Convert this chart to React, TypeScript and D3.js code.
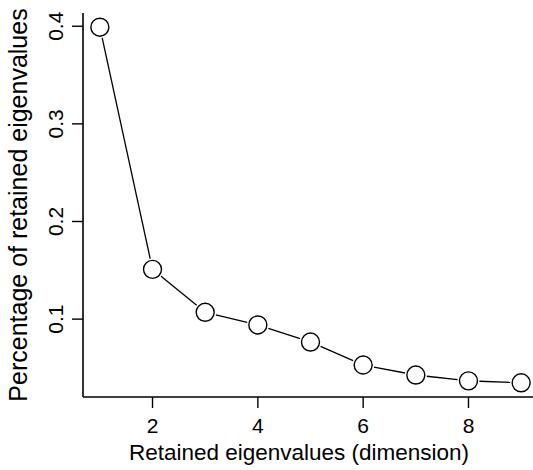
import React, { useEffect, useRef } from 'react';
import * as d3 from 'd3';

const dims = [1, 2, 3, 4, 5, 6, 7, 8, 9];
const retained = [0.399, 0.151, 0.107, 0.094, 0.0765, 0.053, 0.0427, 0.0368, 0.0348];
const xTicks = [2, 4, 6, 8];
const yTicks = [0.1, 0.2, 0.3, 0.4];

const W = 533;
const H = 470;
const FONT = '"Liberation Sans", Arial, Helvetica, sans-serif';

export default function App() {
  const svgRef = useRef<SVGSVGElement>(null);

  useEffect(() => {
    const svg = d3.select(svgRef.current);
    svg.selectAll('*').remove();

    // R-style 4% padding on data range
    const [x0, x1] = d3.extent(dims) as [number, number];
    const [y0, y1] = d3.extent(retained) as [number, number];
    const xp = (x1 - x0) * 0.04;
    const yp = (y1 - y0) * 0.04;

    const x = d3.scaleLinear().domain([x0 - xp, x1 + xp]).range([83, 538]);
    const y = d3.scaleLinear().domain([y0 - yp, y1 + yp]).range([397, 13]);

    const g = svg.append('g');

    // L-shaped axes
    g.append('line')
      .attr('x1', x.range()[0]).attr('x2', x.range()[0])
      .attr('y1', y.range()[1]).attr('y2', y.range()[0])
      .attr('stroke', '#000').attr('stroke-width', 1.6);
    g.append('line')
      .attr('x1', x.range()[0]).attr('x2', x.range()[1])
      .attr('y1', y.range()[0]).attr('y2', y.range()[0])
      .attr('stroke', '#000').attr('stroke-width', 1.6);

    // x ticks
    const xt = g.selectAll('g.xt').data(xTicks).enter().append('g')
      .attr('transform', (d) => `translate(${x(d)},${y.range()[0]})`);
    xt.append('line').attr('y1', 0).attr('y2', 11).attr('stroke', '#000').attr('stroke-width', 1.4);
    xt.append('text')
      .attr('y', 36)
      .attr('text-anchor', 'middle')
      .attr('font-family', FONT)
      .attr('font-size', 21)
      .text((d) => d);

    // y ticks (rotated labels)
    const yt = g.selectAll('g.yt').data(yTicks).enter().append('g')
      .attr('transform', (d) => `translate(${x.range()[0]},${y(d)})`);
    yt.append('line').attr('x1', 0).attr('x2', -11).attr('stroke', '#000').attr('stroke-width', 1.4);
    yt.append('text')
      .attr('transform', 'translate(-20,0) rotate(-90)')
      .attr('text-anchor', 'middle')
      .attr('font-family', FONT)
      .attr('font-size', 21)
      .text((d) => d3.format('.1f')(d));

    // connecting segments with gaps (type = "b")
    const r = 9;
    const gap = r + 2;
    const pts = dims.map((d, i) => [x(d), y(retained[i])] as [number, number]);
    for (let i = 0; i < pts.length - 1; i++) {
      const [ax, ay] = pts[i];
      const [bx, by] = pts[i + 1];
      const len = Math.hypot(bx - ax, by - ay);
      if (len <= 2 * gap) continue;
      const ux = (bx - ax) / len;
      const uy = (by - ay) / len;
      g.append('line')
        .attr('x1', ax + ux * gap).attr('y1', ay + uy * gap)
        .attr('x2', bx - ux * gap).attr('y2', by - uy * gap)
        .attr('stroke', '#000').attr('stroke-width', 1.3);
    }

    g.selectAll('circle').data(pts).enter().append('circle')
      .attr('cx', (d) => d[0])
      .attr('cy', (d) => d[1])
      .attr('r', r)
      .attr('fill', '#fff')
      .attr('stroke', '#000')
      .attr('stroke-width', 1.4);

    // axis titles
    svg.append('text')
      .attr('x', 299)
      .attr('y', 460)
      .attr('text-anchor', 'middle')
      .attr('font-family', FONT)
      .attr('font-size', 22.5)
      .text('Retained eigenvalues (dimension)');

    svg.append('text')
      .attr('transform', 'translate(27,205) rotate(-90)')
      .attr('text-anchor', 'middle')
      .attr('font-family', FONT)
      .attr('font-size', 25)
      .text('Percentage of retained eigenvalues');
  }, []);

  return (
    <div style={{ position: 'fixed', left: 0, top: 0, background: '#fff' }}>
      <svg ref={svgRef} width={W} height={H} style={{ display: 'block' }} />
    </div>
  );
}
